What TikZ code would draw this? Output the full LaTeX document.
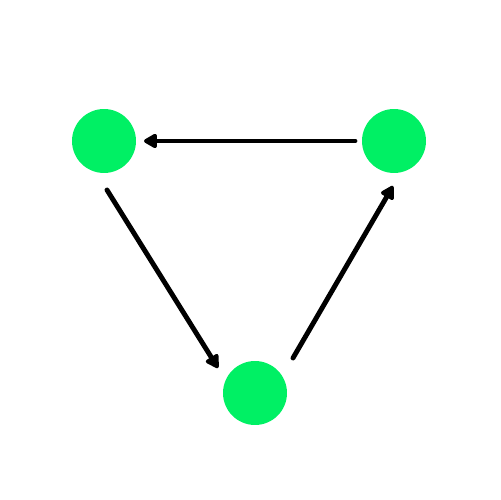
\documentclass[tikz,border=0pt]{standalone}
\usetikzlibrary{arrows.meta}
\definecolor{nodegreen}{RGB}{0,240,100}

\begin{document}
\begin{tikzpicture}[x=0.02cm,y=0.02cm,
    vertex/.style={circle,fill=nodegreen,minimum size=1.28cm,inner sep=0pt},
    edge/.style={line width=2.8pt,line cap=round,-{Triangle[length=0.3cm,width=0.32cm,round]}}]
    \useasboundingbox(0,0)rectangle(500,500);

    \node[vertex](left)at(104,359){};
    \node[vertex](right)at(394,359){};
    \node[vertex](bottom)at(255,107){};

    \draw[edge]([shift={(-39,0)}]right.center)--([shift={(40,0)}]left.center);
    \draw[edge]([shift={(3,-49)}]left.center)--([shift={(-37,25)}]bottom.center);
    \draw[edge]([shift={(38,35)}]bottom.center)--([shift={(-1,-45)}]right.center);
\end{tikzpicture}
\end{document}
